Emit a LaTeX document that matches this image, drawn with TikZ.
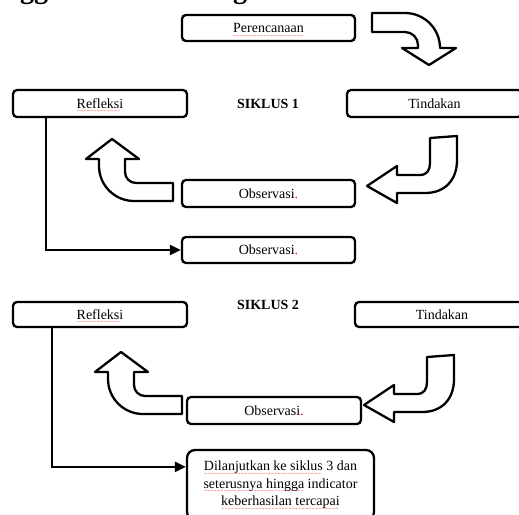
\documentclass[tikz,border=0pt]{standalone}
\usepackage{fontspec}
\setmainfont{Liberation Serif}
\newfontfamily\wavefont{DejaVu Sans}
\usetikzlibrary{arrows.meta}
\newcommand\redwave[1]{\setbox0=\hbox{#1}\rlap{\raisebox{-4.6pt}[0pt][0pt]{\color{red}\wavefont\fontsize{4}{4}\selectfont\hbox to \wd0{\leaders\hbox{\char`\~}\hfil}}}\box0\relax}
\newcommand\obstext{Observasi\textcolor{red}{.}}
\begin{document}
\begin{tikzpicture}[x=1pt,y=-1pt,
  stepbox/.style={draw, line width=2.3pt, rounded corners=4pt, fill=white, inner sep=0pt,
    font=\fontsize{14}{17}\selectfont},
  bigarrow/.style={draw, fill=white, line width=2.3pt, line join=round},
  conn/.style={line width=2.3pt, -{Triangle[length=11pt,width=10pt]}},
  title/.style={font=\fontsize{14}{17}\selectfont\bfseries},
  frag/.style={font=\fontsize{28}{30}\selectfont\bfseries, inner sep=0pt, anchor=base west}]
\useasboundingbox (0,0) rectangle (519,514);
\clip (0,0) rectangle (519,514);
% cut-off heading text at the top edge
\node[frag] (fragA) at (20,-1.5) {gg};
\node[frag] (fragB) at (233,-1.5) {g};
% ---- cycle 1 ----
\node[stepbox, minimum width=173pt, minimum height=26pt] (plan) at (268.5,28) {\redwave{Perencanaan}};
\node[stepbox, minimum width=174pt, minimum height=27pt] (refl1) at (100,103.5) {\redwave{Refleksi}};
\node[stepbox, minimum width=175pt, minimum height=27pt] (act1) at (434.5,103.5) {Tindakan};
\node[title] (sik1) at (268,104) {SIKLUS 1};
\node[stepbox, minimum width=173pt, minimum height=27pt] (obs1) at (268.5,193.5) {\obstext};
\node[stepbox, minimum width=173pt, minimum height=26pt] (obsb) at (268.5,250) {\obstext};
% big arrow: Perencanaan -> Tindakan
\draw[bigarrow] (372,13) -- (405,13) .. controls (424.3,13) and (440,28.7) .. (440,48)
  -- (456,48) -- (429,65) -- (402,48) -- (418,48) -- (418,45)
  .. controls (418,37.8) and (412.2,32) .. (405,32) -- (372,32) -- cycle;
% big arrow: Tindakan -> Observasi (cycle 1)
\draw[bigarrow] (430,138) -- (457,136) -- (457,160) .. controls (457,180) and (445,193) .. (425,193)
  -- (397,193) -- (397,203) -- (367,186) -- (397,166) -- (397,175) -- (420,175)
  .. controls (427,175) and (430,170) .. (430,163) -- cycle;
% big arrow: Observasi -> Refleksi (cycle 1)
\draw[bigarrow] (112,139) -- (139,159) -- (125,159) -- (125,172)
  .. controls (125,178.1) and (129.9,183) .. (136,183) -- (173,183) -- (173,201) -- (134,201)
  .. controls (114.7,201) and (99,185.3) .. (99,166) -- (99,159) -- (86,159) -- cycle;
\draw[conn] ([xshift=34pt]refl1.south west) |- (obsb.west);
% ---- cycle 2 ----
\node[stepbox, minimum width=174pt, minimum height=25pt] (refl2) at (100,314.5) {\redwave{Refleksi}};
\node[stepbox, minimum width=174pt, minimum height=25pt] (act2) at (442,314.5) {Tindakan};
\node[title] (sik2) at (268,305) {SIKLUS 2};
\node[stepbox, minimum width=174pt, minimum height=27pt] (obs2) at (274,410.5) {\obstext};
\node[stepbox, rounded corners=8pt, minimum width=187pt, minimum height=70pt, align=center,
  font=\fontsize{14}{17.5}\selectfont] (final) at (280.5,485)
  {\redwave{Dilanjutkan ke siklus} 3 dan\\ \redwave{seterusnya hingga} indicator\\ \redwave{keberhasilan tercapai}};
\begin{scope}[shift={(-3,219)}]
\draw[bigarrow] (430,138) -- (457,136) -- (457,160) .. controls (457,180) and (445,193) .. (425,193)
  -- (397,193) -- (397,203) -- (367,186) -- (397,166) -- (397,175) -- (420,175)
  .. controls (427,175) and (430,170) .. (430,163) -- cycle;
\end{scope}
\begin{scope}[shift={(9,213)}]
\draw[bigarrow] (112,139) -- (139,159) -- (125,159) -- (125,172)
  .. controls (125,178.1) and (129.9,183) .. (136,183) -- (173,183) -- (173,201) -- (134,201)
  .. controls (114.7,201) and (99,185.3) .. (99,166) -- (99,159) -- (86,159) -- cycle;
\end{scope}
\draw[conn] ([xshift=40pt]refl2.south west) |- ([yshift=-18pt]final.north west);
\end{tikzpicture}
\end{document}
